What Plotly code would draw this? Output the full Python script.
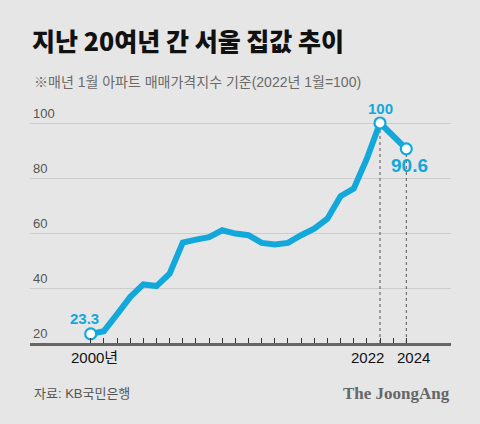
import plotly.graph_objects as go

# ---- data ----
years = list(range(2000, 2025))
index_values = [23.3, 24.3, 30.4, 36.7, 41.3, 40.7, 45.2, 56.5, 57.6, 58.5, 61.0, 59.8,
                59.2, 56.4, 55.8, 56.4, 59.2, 61.6, 65.2, 73.4, 76.1, 87.0, 100.0, 94.9, 90.6]
highlight_years = [2000, 2022, 2024]
guide_years = [2022, 2024]
x_labels = {2000: "2000년", 2022: "2022", 2024: "2024"}
y_ticks = [20, 40, 60, 80, 100]

title_text = "지난 20여년 간 서울 집값 추이"
subtitle_text = "※매년 1월 아파트 매매가격지수 기준(2022년 1월=100)"
source_text = "자료: KB국민은행"
brand_text = "The JoongAng"

# ---- styles ----
BLUE = "#12a8dc"
BG = "#e6e6e6"
KR = "Noto Sans CJK KR, sans-serif"
LAT = "Liberation Sans, Arial, sans-serif"
MIX = "Liberation Sans, Noto Sans CJK KR, sans-serif"

value_of = dict(zip(years, index_values))

fig = go.Figure()

# dotted guide lines
for gy in guide_years:
    fig.add_trace(go.Scatter(
        x=[gy, gy], y=[y_ticks[0], value_of[gy]], mode="lines",
        line=dict(color="#555555", width=1, dash="dot"),
        hoverinfo="skip", showlegend=False))

fig.add_trace(go.Scatter(
    x=years, y=index_values, mode="lines",
    line=dict(color=BLUE, width=6), showlegend=False))

fig.add_trace(go.Scatter(
    x=highlight_years, y=[value_of[y] for y in highlight_years], mode="markers",
    marker=dict(size=11, color="white", line=dict(color=BLUE, width=2.2)),
    showlegend=False))

# value labels
label_cfg = {2000: dict(xshift=-6, yshift=15, size=15),
             2022: dict(xshift=0, yshift=15, size=15),
             2024: dict(xshift=3, yshift=-17, size=19)}
for hy in highlight_years:
    v = value_of[hy]
    txt = f"{v:g}"
    c = label_cfg[hy]
    fig.add_annotation(x=hy, y=v, text=f"<b>{txt}</b>", showarrow=False,
                       xshift=c["xshift"], yshift=c["yshift"],
                       font=dict(family=LAT, size=c["size"], color=BLUE))

# x labels
xl_cfg = {2000: 4, 2022: -13, 2024: 7}
for xy, t in x_labels.items():
    fig.add_annotation(x=xy, y=0, yref="paper", text=t, showarrow=False,
                       xshift=xl_cfg[xy], yshift=-14, yanchor="middle",
                       font=dict(family=MIX, size=15, color="#111111"))

PL, PR_EDGE, PT, PB = 30, 451, 95, 343
pw, ph = PR_EDGE - PL, PB - PT

def px(x):
    return (x - PL) / pw

def py(y):
    return (PB - y) / ph

fig.add_annotation(x=px(32), y=py(82), xref="paper", yref="paper", text=subtitle_text,
                   showarrow=False, xanchor="left", yanchor="middle",
                   font=dict(family=MIX, size=14, color="#6a6a6a"))
fig.add_annotation(x=px(32), y=py(393), xref="paper", yref="paper", text=source_text,
                   showarrow=False, xanchor="left", yanchor="middle",
                   font=dict(family=MIX, size=13, color="#555555"))
fig.add_annotation(x=px(452), y=py(393), xref="paper", yref="paper", text=f"<b>{brand_text}</b>",
                   showarrow=False, xanchor="right", yanchor="middle",
                   font=dict(family="Liberation Serif, DejaVu Serif, serif", size=17, color="#666666"))

x0 = 2000 - (90.7 - PL) / 13.15
x1 = x0 + pw / 13.15
ytop = 20 + ph * 20 / 55

fig.update_layout(
    width=480, height=424,
    margin=dict(l=PL, r=480 - PR_EDGE, t=PT, b=424 - PB),
    paper_bgcolor=BG, plot_bgcolor=BG,
    title=dict(text=title_text, x=32 / 480, xref="container", xanchor="left",
               y=1 - 42 / 424, yref="container", yanchor="middle",
               font=dict(family=KR, size=25, color="#111111", weight=900)),
    xaxis=dict(range=[x0, x1], showgrid=False, zeroline=False,
               showline=True, linecolor="#666666", linewidth=2.5,
               tickmode="array", tickvals=years, ticks="inside", ticklen=5,
               tickcolor="#333333", tickwidth=1, showticklabels=False),
    yaxis=dict(range=[20, ytop], tickmode="array", tickvals=y_ticks,
               showgrid=True, gridcolor="#cdcdcd", gridwidth=1, zeroline=False,
               ticks="", ticklabelposition="inside top",
               tickfont=dict(family=LAT, size=13, color="#555555")),
    showlegend=False,
)

fig.write_html("out.html", config={"displayModeBar": False},
               post_script="document.body.style.margin='0';document.body.style.background='#e6e6e6';")
